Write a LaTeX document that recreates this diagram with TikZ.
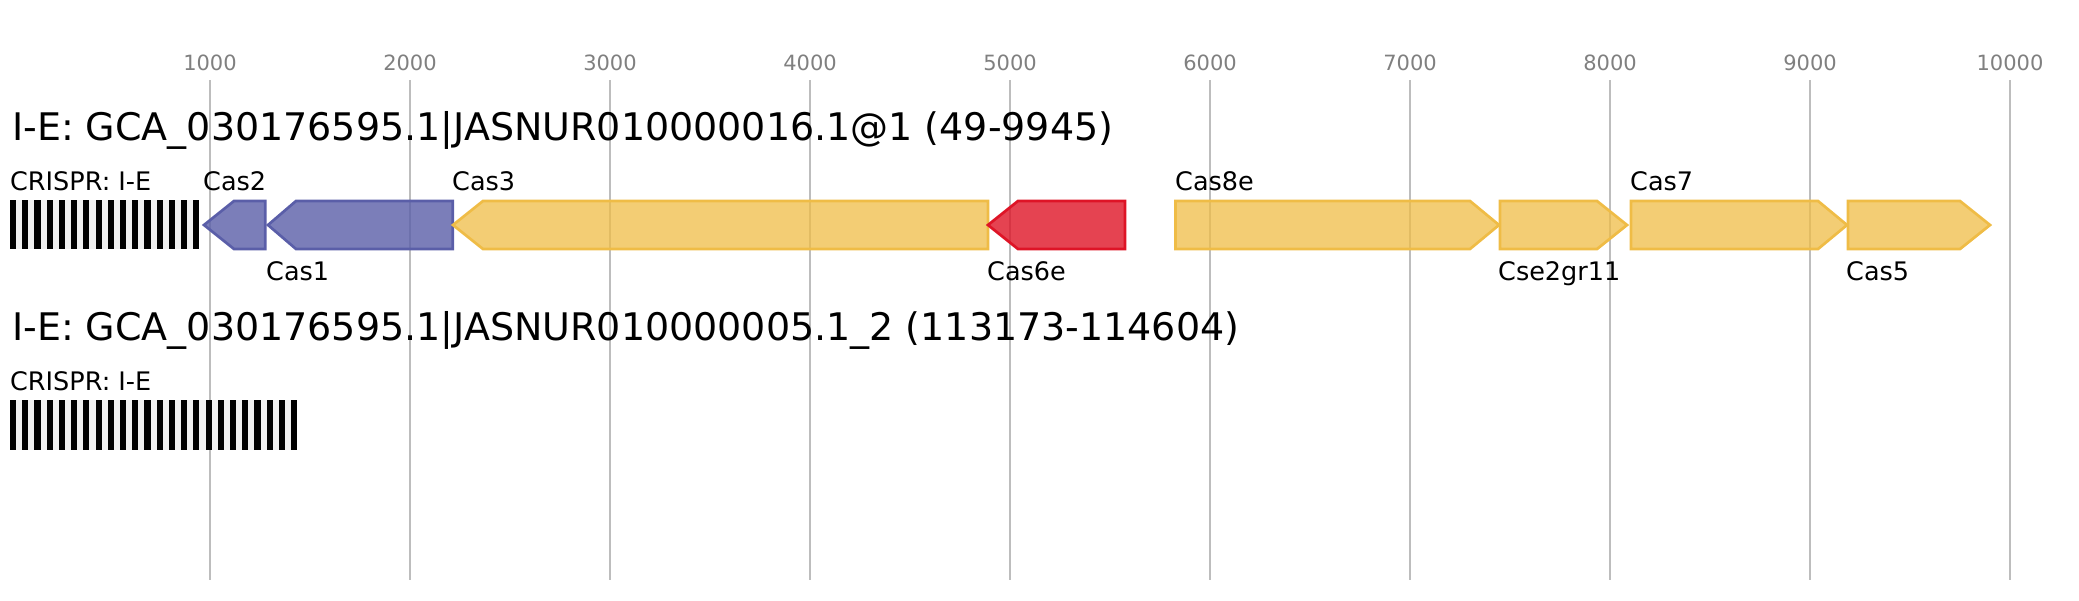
\documentclass[tikz,border=0pt]{standalone}
\usepackage{fontspec}
\setmainfont{DejaVu Sans}
\definecolor{blueg}{HTML}{5A5EA8}
\definecolor{yellowg}{HTML}{EFBC46}
\definecolor{redg}{HTML}{DE1426}
\definecolor{gridc}{HTML}{BDBDBD}
\definecolor{tickc}{HTML}{808080}
\definecolor{gapc}{HTML}{F0F0F0}
\tikzset{
  gridline/.style={draw=gridc, line width=1.5},
  ticklabel/.style={anchor=base, inner sep=0, text=tickc, font=\fontsize{21}{24}\selectfont},
  titlelabel/.style={anchor=base west, inner sep=0, font=\fontsize{38}{40}\selectfont},
  genelabel/.style={anchor=base west, inner sep=0, font=\fontsize{25.5}{28}\selectfont},
  bluegene/.style={draw=blueg, fill=blueg, fill opacity=0.8, line width=2.7, line join=miter},
  yellowgene/.style={draw=yellowg, fill=yellowg, fill opacity=0.75, line width=2.7, line join=miter},
  redgene/.style={draw=redg, fill=redg, fill opacity=0.8, line width=2.7, line join=miter},
  repeatbar/.style={fill=black},
  arraybg/.style={fill=gapc}
}
\begin{document}
\begin{tikzpicture}[x=1pt, y=-1pt]
\useasboundingbox (0,0) rectangle (2079,600);
% grid and ticks
\foreach \k in {1,...,10} {
  \pgfmathtruncatemacro{\lab}{\k*1000}
  \coordinate (gt\k) at ({10+200*\k},80);
  \coordinate (gb\k) at ({10+200*\k},580);
  \draw[gridline] (gt\k) -- (gb\k);
  \node[ticklabel] (tick\k) at ({10+200*\k},70) {\lab};
}
% titles
\node[titlelabel] (title1) at (12,140.5) {I-E: GCA\_030176595.1|JASNUR010000016.1@1 (49-9945)};
\node[titlelabel] (title2) at (12,340.5) {I-E: GCA\_030176595.1|JASNUR010000005.1\_2 (113173-114604)};
% CRISPR arrays
\node[genelabel] (crlab1) at (10,190) {CRISPR: I-E};
\fill[arraybg] (10,200) rectangle (199.4,249.3);
\foreach \i in {0,...,15} {
  \fill[repeatbar] ({10+12.22*\i},200) rectangle ({16.1+12.22*\i},249.3);
}
\node[genelabel] (crlab2) at (10,390) {CRISPR: I-E};
\fill[arraybg] (10,400) rectangle (297,450);
\foreach \i in {0,...,23} {
  \fill[repeatbar] ({10+12.22*\i},400) rectangle ({16.1+12.22*\i},450);
}
% reverse genes
\draw[bluegene] (204,225) -- (234,201) -- (265.3,201) -- (265.3,249) -- (234,249) -- cycle;
\draw[bluegene] (268,225) -- (296,201) -- (452.7,201) -- (452.7,249) -- (296,249) -- cycle;
\draw[yellowgene] (453,225) -- (483,201) -- (988,201) -- (988,249) -- (483,249) -- cycle;
\draw[redgene] (988,225) -- (1018,201) -- (1125,201) -- (1125,249) -- (1018,249) -- cycle;
% forward genes
\draw[yellowgene] (1175.5,201) -- (1470,201) -- (1499,225) -- (1470,249) -- (1175.5,249) -- cycle;
\draw[yellowgene] (1500,201) -- (1597,201) -- (1627,225) -- (1597,249) -- (1500,249) -- cycle;
\draw[yellowgene] (1631,201) -- (1818,201) -- (1847,225) -- (1818,249) -- (1631,249) -- cycle;
\draw[yellowgene] (1848,201) -- (1960,201) -- (1990,225) -- (1960,249) -- (1848,249) -- cycle;
% gene labels
\node[genelabel] (lcas2) at (203,190) {Cas2};
\node[genelabel] (lcas1) at (266,280) {Cas1};
\node[genelabel] (lcas3) at (452,190) {Cas3};
\node[genelabel] (lcas6e) at (987,280) {Cas6e};
\node[genelabel] (lcas8e) at (1175,190) {Cas8e};
\node[genelabel] (lcse) at (1498,280) {Cse2gr11};
\node[genelabel] (lcas7) at (1630,190) {Cas7};
\node[genelabel] (lcas5) at (1846,280) {Cas5};
\end{tikzpicture}
\end{document}
